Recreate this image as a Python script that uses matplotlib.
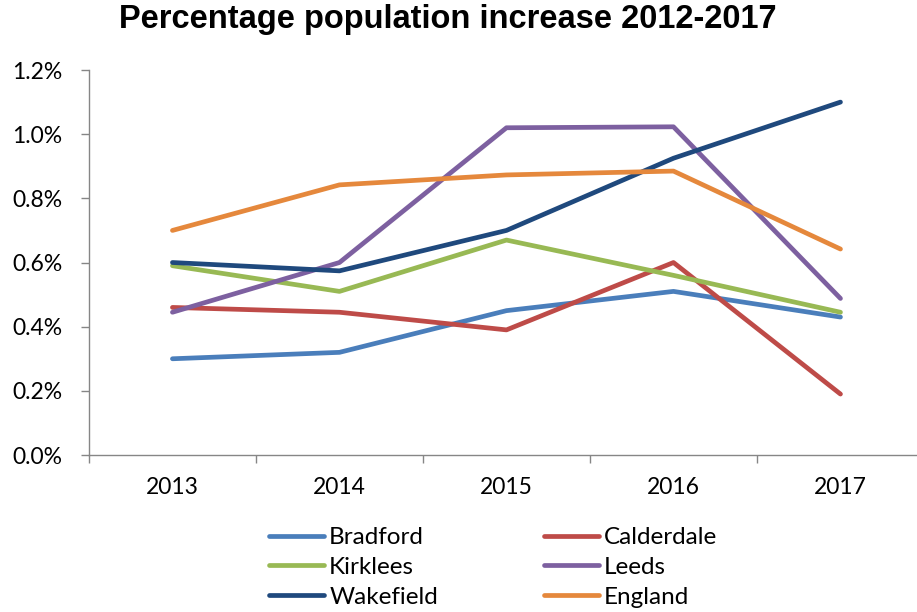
import numpy as np
import matplotlib
matplotlib.use("Agg")
import matplotlib.pyplot as plt
from matplotlib.ticker import FuncFormatter, FixedLocator

years = ["2013", "2014", "2015", "2016", "2017"]
bradford = [0.30, 0.32, 0.45, 0.51, 0.43]
calderdale = [0.46, 0.445, 0.39, 0.60, 0.19]
kirklees = [0.59, 0.51, 0.67, 0.56, 0.445]
leeds = [0.445, 0.60, 1.02, 1.023, 0.488]
wakefield = [0.60, 0.574, 0.70, 0.925, 1.10]
england = [0.70, 0.842, 0.873, 0.885, 0.642]

names = ["Bradford", "Calderdale", "Kirklees", "Leeds", "Wakefield", "England"]
series = [bradford, calderdale, kirklees, leeds, wakefield, england]
colors = ["#4A7EBB", "#BE4B48", "#98B954", "#7D60A0", "#1F497D", "#E5883C"]

plt.rcParams["font.family"] = ["Lato", "DejaVu Sans"]

fig = plt.figure(figsize=(9.17, 6.12), dpi=100)
ax = fig.add_axes([0.097, 0.2565, 0.9106, 0.6291])

x = np.arange(len(years))
lines = []
for name, vals, c in zip(names, series, colors):
    ln, = ax.plot(x, vals, color=c, lw=3.4, solid_capstyle="round",
                  solid_joinstyle="round", label=name)
    lines.append(ln)

ax.set_xlim(-0.5, len(years) - 0.5)
ax.set_ylim(0, 1.2)
ax.yaxis.set_major_locator(FixedLocator([0, 0.2, 0.4, 0.6, 0.8, 1.0, 1.2]))
ax.yaxis.set_major_formatter(FuncFormatter(lambda v, p: "%.1f%%" % v))

# category labels in the middle, tick marks on the boundaries
ax.set_xticks(np.arange(-0.5, len(years), 1.0))
ax.set_xticklabels([])
ax.set_xticks(x, minor=True)
ax.set_xticklabels(years, minor=True)
ax.tick_params(axis="x", which="major", direction="out", length=6, color="#868686", width=1)
ax.tick_params(axis="x", which="minor", length=0, pad=16, labelsize=16.5)
ax.tick_params(axis="y", direction="out", length=6, color="#868686", width=1, pad=13, labelsize=16.5)

for s in ["top", "right"]:
    ax.spines[s].set_visible(False)
for s in ["left", "bottom"]:
    ax.spines[s].set_color("#868686")
    ax.spines[s].set_linewidth(1)

fig.text(0.488, 0.968, "Percentage population increase 2012-2017", ha="center", va="center",
         fontsize=23.5, fontweight="bold", family=["Liberation Sans", "DejaVu Sans"])

order = [0, 2, 4, 1, 3, 5]
ax.legend([lines[i] for i in order], [names[i] for i in order], ncol=2,
          loc="center", bbox_to_anchor=(0.484, -0.292), frameon=False, fontsize=17.5,
          handlelength=2.26, handletextpad=0.2, columnspacing=4.35, labelspacing=0.36,
          borderpad=0)

fig.savefig("out.png", dpi=100)
